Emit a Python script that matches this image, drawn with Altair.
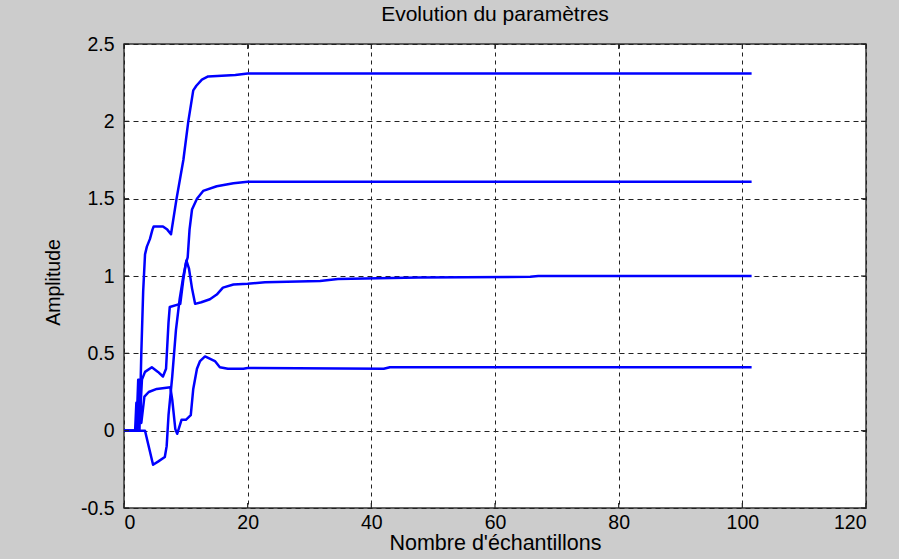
import altair as alt
import pandas as pd

# ---- data ----
a_x = [0, 2.5, 2.8, 3.1, 3.4, 3.7, 4.2, 4.6, 4.8, 6.3, 7.0, 7.6, 8.5, 9.6, 10.4, 11.2, 11.7, 12.6, 13.6, 18, 20, 101.5]
a_y = [0, 0, 0.5, 0.9, 1.14, 1.19, 1.24, 1.30, 1.32, 1.32, 1.30, 1.27, 1.50, 1.75, 2.00, 2.20, 2.23, 2.27, 2.29, 2.30, 2.31, 2.31]

b_x = [0, 2.0, 2.3, 2.6, 2.9, 3.4, 4.5, 5.5, 6.3, 6.8, 7.2, 7.4, 9.1, 9.6, 10.0, 10.3, 10.6, 11.0, 11.8, 12.8, 15, 17.7, 20, 101.5]
b_y = [0, 0, 0.33, 0.1, 0.33, 0.38, 0.41, 0.38, 0.35, 0.40, 0.70, 0.80, 0.82, 0.98, 1.08, 1.12, 1.30, 1.43, 1.50, 1.55, 1.58, 1.60, 1.61, 1.61]

c_x = [0, 3.4, 4.7, 5.5, 6.6, 6.9, 7.2, 7.8, 8.4, 9.0, 9.6, 10.1, 10.5, 11.0, 11.5, 12.5, 13.9, 15.0, 16.0, 17.7, 20, 22.8, 31.7, 34.6, 47.6, 65.7, 67, 101.5]
c_y = [0, 0, -0.22, -0.20, -0.17, -0.10, 0.10, 0.35, 0.65, 0.85, 1.00, 1.10, 1.05, 0.92, 0.82, 0.83, 0.85, 0.88, 0.925, 0.945, 0.95, 0.96, 0.967, 0.98, 0.99, 0.995, 1.0, 1.0]

d_x = [0, 1.8, 2.0, 2.2, 2.5, 2.8, 3.3, 4.0, 5.3, 7.5, 7.8, 8.3, 8.6, 9.3, 10.0, 10.8, 11.2, 11.8, 12.3, 13.1, 14.7, 15.5, 16.8, 19.3, 20, 42, 43, 101.5]
d_y = [0, 0, 0.18, 0, 0.33, 0.05, 0.22, 0.25, 0.27, 0.28, 0.20, 0.01, -0.02, 0.07, 0.07, 0.10, 0.27, 0.40, 0.45, 0.48, 0.45, 0.41, 0.40, 0.40, 0.405, 0.40, 0.41, 0.41]

x_ticks = [0, 20, 40, 60, 80, 100, 120]
y_ticks = [-0.5, 0, 0.5, 1, 1.5, 2, 2.5]

rows = []
for name, xs, ys in [("a", a_x, a_y), ("b", b_x, b_y), ("c", c_x, c_y), ("d", d_x, d_y)]:
    for i, (x, y) in enumerate(zip(xs, ys)):
        rows.append({"serie": name, "i": i, "x": x, "y": y})
df = pd.DataFrame(rows)
xt = pd.DataFrame({"x": x_ticks})
yt = pd.DataFrame({"y": y_ticks})

FONT = "Liberation Sans"
W, H = 742, 464
TL = 5  # inward tick length
INK = "#222222"

xscale = alt.Scale(domain=[0, 120], nice=False, zero=False)
yscale = alt.Scale(domain=[-0.5, 2.5], nice=False, zero=False)

lines = alt.Chart(df).mark_line(color="#0000ff", strokeWidth=2.5, strokeJoin="round").encode(
    x=alt.X("x:Q", scale=xscale,
            axis=alt.Axis(values=x_ticks, title="Nombre d'échantillons", grid=True,
                          gridDash=[4, 4], gridColor=INK, gridWidth=1, gridOpacity=1,
                          domain=False, ticks=False, labelPadding=5,
                          labelFontSize=19.5, labelColor="#000000", labelFont=FONT,
                          titleFontSize=21.5, titleFontWeight="normal", titleColor="#000000",
                          titleFont=FONT, titlePadding=1, labelExpr="'' + datum.value")),
    y=alt.Y("y:Q", scale=yscale,
            axis=alt.Axis(values=y_ticks, title="Amplitude", grid=True,
                          gridDash=[5, 4], gridColor=INK, gridWidth=1, gridOpacity=1,
                          domain=False, ticks=False, labelPadding=10,
                          labelFontSize=19.5, labelColor="#000000", labelFont=FONT,
                          titleFontSize=19.5, titleFontWeight="normal", titleColor="#000000",
                          titleFont=FONT, titleX=-61, titleY=238, titleBaseline="bottom",
                          titleAngle=-90, titleAlign="center",
                          labelExpr="'' + datum.value")),
    detail="serie:N",
    order="i:Q",
)

tick_style = dict(color=INK, strokeWidth=1.2)
xt_bottom = alt.Chart(xt).mark_rule(**tick_style).encode(
    x=alt.X("x:Q", scale=xscale), y=alt.value(H - TL), y2=alt.value(H))
xt_top = alt.Chart(xt).mark_rule(**tick_style).encode(
    x=alt.X("x:Q", scale=xscale), y=alt.value(0), y2=alt.value(TL))
yt_left = alt.Chart(yt).mark_rule(**tick_style).encode(
    y=alt.Y("y:Q", scale=yscale), x=alt.value(0), x2=alt.value(TL))
yt_right = alt.Chart(yt).mark_rule(**tick_style).encode(
    y=alt.Y("y:Q", scale=yscale), x=alt.value(W - TL), x2=alt.value(W))

chart = alt.layer(lines, xt_bottom, xt_top, yt_left, yt_right).properties(
    width=W,
    height=H,
    title=alt.TitleParams("Evolution du paramètres", fontSize=21, fontWeight="normal",
                          font=FONT, color="#000000", offset=9, anchor="middle"),
    autosize=alt.AutoSizeParams(type="none"),
    padding={"left": 124, "top": 44, "right": 33, "bottom": 51},
    background="#cccccc",
).configure_view(
    fill="#ffffff", stroke="#333333", strokeWidth=1.5
)

chart.save("out.html", embed_options={"renderer": "svg", "actions": False})
